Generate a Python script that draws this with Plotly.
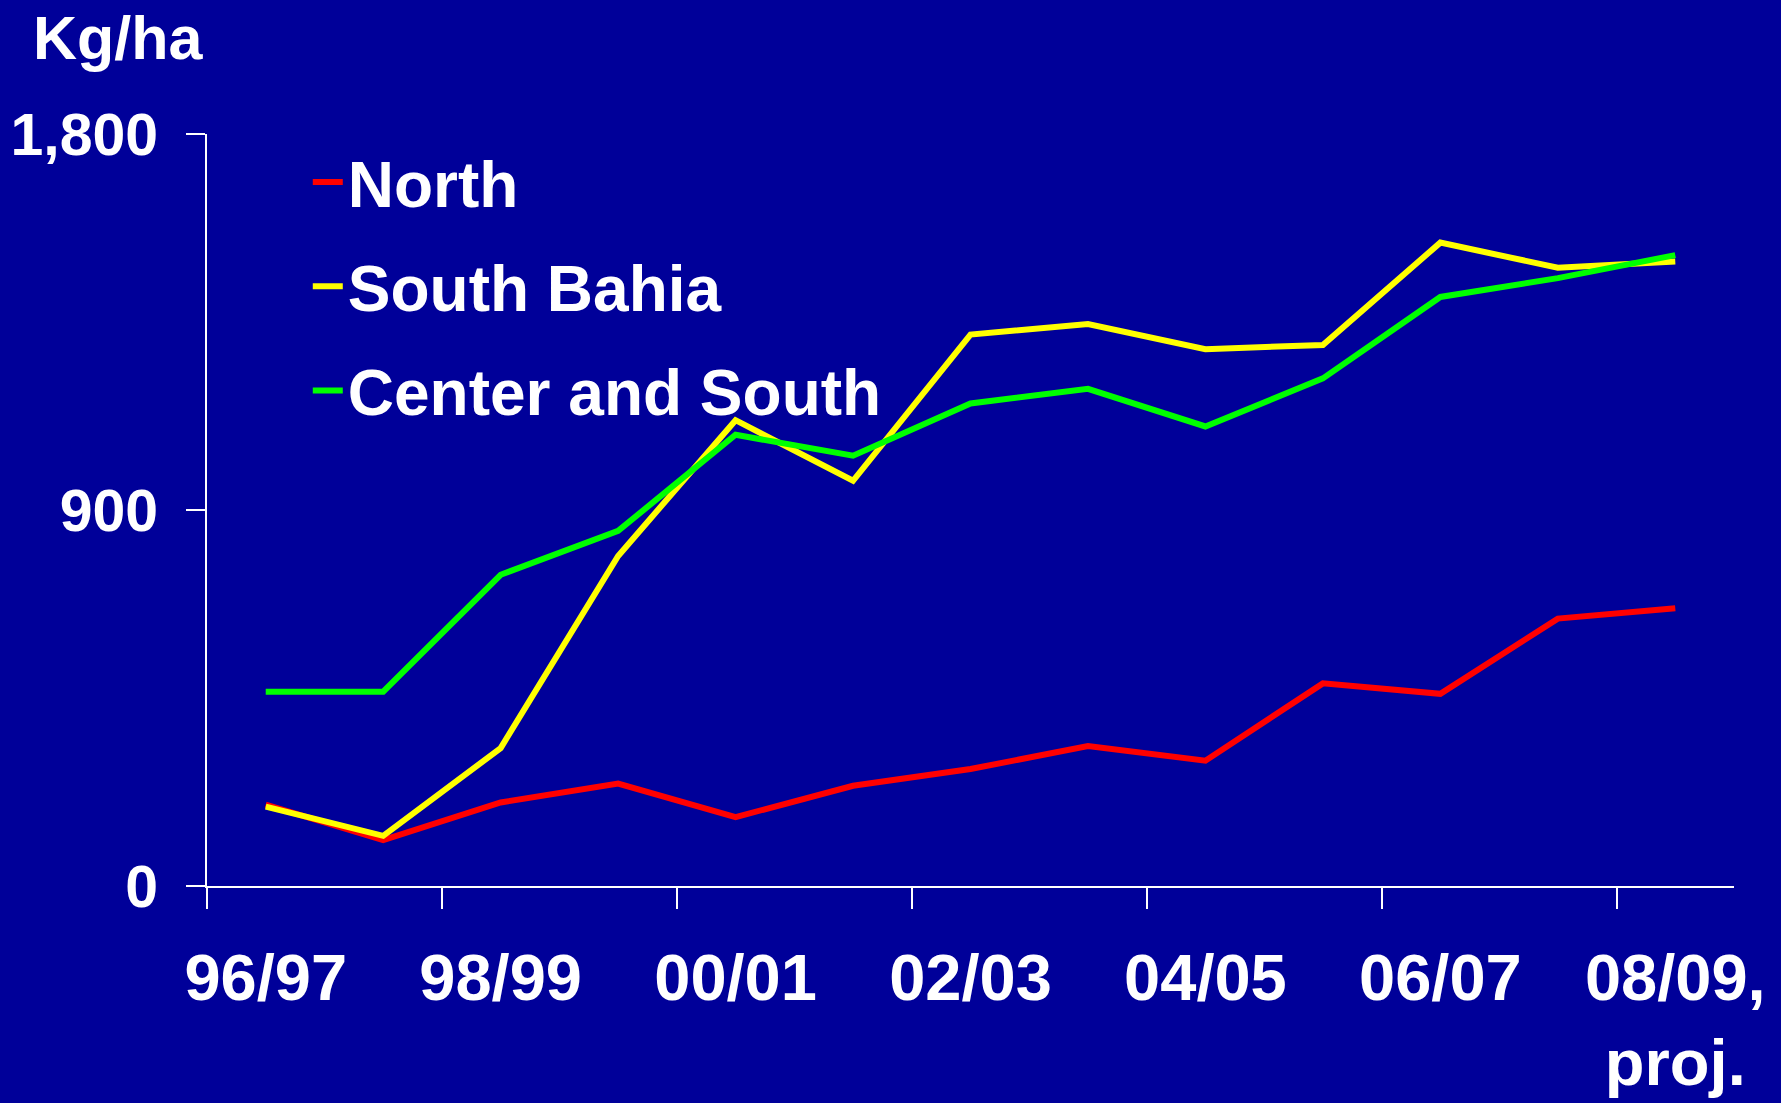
import plotly.graph_objects as go

categories = ["96/97", "97/98", "98/99", "99/00", "00/01", "01/02", "02/03",
              "03/04", "04/05", "05/06", "06/07", "07/08", "08/09, proj."]
north = [195, 110, 200, 245, 165, 240, 280, 335, 300, 485, 460, 640, 665]
south_bahia = [190, 120, 330, 790, 1115, 970, 1320, 1345, 1285, 1295, 1540, 1480, 1495]
center_south = [465, 465, 745, 850, 1080, 1030, 1155, 1190, 1100, 1215, 1410, 1455, 1510]

tick_positions = [0, 2, 4, 6, 8, 10, 12]
tick_labels = ["96/97", "98/99", "00/01", "02/03", "04/05", "06/07", "08/09,<br>proj."]
y_ticks = [0, 900, 1800]

BG = "#000099"
FONT = "Liberation Sans, Arial, sans-serif"

xs = list(range(len(categories)))
fig = go.Figure()
series = [("North", north, "#FF0000"),
          ("South Bahia", south_bahia, "#FFFF00"),
          ("Center and South", center_south, "#00FF00")]
for name, vals, col in series:
    fig.add_trace(go.Scatter(
        x=xs, y=vals, mode="lines", name=name, legendgroup=name,
        line=dict(color=col, width=6), customdata=categories,
        hovertemplate="%{customdata}: %{y}<extra>" + name + "</extra>"))

fig.update_layout(
    width=1781, height=1103,
    paper_bgcolor=BG, plot_bgcolor=BG,
    margin=dict(l=207, r=47, t=134, b=217, autoexpand=False),
    font=dict(family=FONT, color="white", weight="bold"),
    showlegend=True,
    legend=dict(x=0.066, xanchor="left", y=1.0, yanchor="top",
                bgcolor="rgba(0,0,0,0)", font=dict(size=64, color="white", family=FONT, weight="bold"),
                tracegroupgap=18, itemwidth=30),
    xaxis=dict(range=[-0.5, 12.5], showgrid=False, zeroline=False, automargin=False,
               showline=True, linecolor="white", linewidth=2,
               tickmode="array", tickvals=tick_positions, ticktext=tick_labels,
               ticks="", ticklabelstandoff=34,
               tickfont=dict(size=65, color="white", family=FONT, weight="bold"),
               minor=dict(tickmode="linear", tick0=-0.5, dtick=2, ticks="outside",
                          ticklen=21, tickwidth=2, tickcolor="white", showgrid=False)),
    yaxis=dict(range=[0, 1800], showgrid=False, zeroline=False, automargin=False,
               showline=True, linecolor="white", linewidth=2,
               tickmode="array", tickvals=y_ticks, tickformat=",d",
               ticks="outside", ticklen=19, tickwidth=2, tickcolor="white",
               ticklabelstandoff=16,
               tickfont=dict(size=59, color="white", family=FONT, weight="bold")),
    annotations=[dict(text="Kg/ha", xref="paper", yref="paper",
                      x=-0.115, xanchor="left", y=1.176, yanchor="top",
                      showarrow=False,
                      font=dict(size=61, color="white", family=FONT, weight="bold"))],
)

fig.write_html("out.html", config={"displayModeBar": False},
               post_script="document.body.style.margin='0';document.body.style.background='#000099';")
